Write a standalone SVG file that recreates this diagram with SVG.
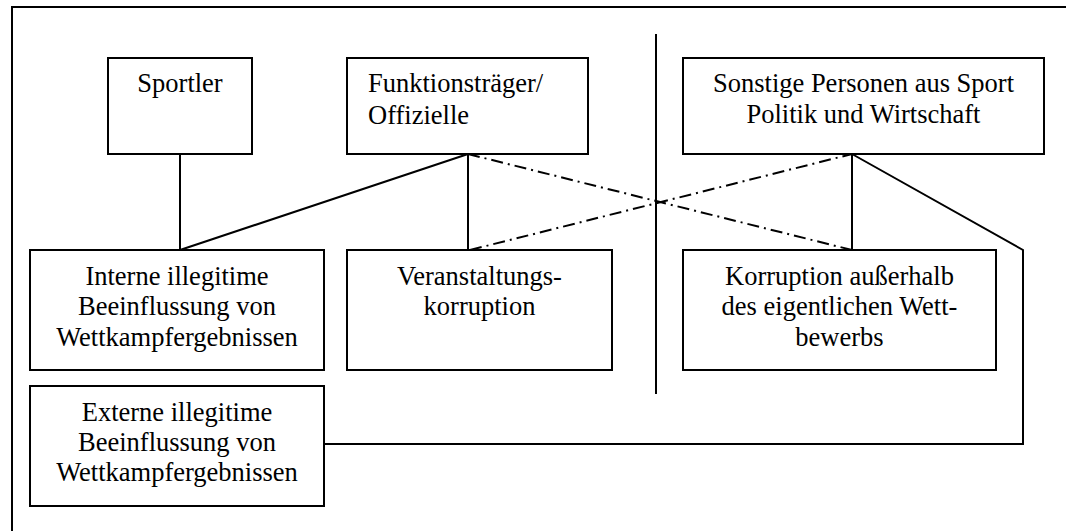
<svg xmlns="http://www.w3.org/2000/svg" width="1066" height="531" viewBox="0 0 1066 531">
  <style>
    .box { fill: #ffffff; stroke: #000000; stroke-width: 2; }
    .line { fill: none; stroke: #000000; stroke-width: 2; }
    .dash { fill: none; stroke: #000000; stroke-width: 2; stroke-dasharray: 12 5 2 5; }
    text { font-family: "Liberation Serif", "Times New Roman", serif; font-size: 26.5px; fill: #000000; }
    .c { text-anchor: middle; }
  </style>
  <rect x="0" y="0" width="1066" height="531" fill="#ffffff"/>
  <!-- outer frame: top and left edges -->
  <path class="line" d="M12,531 V7 H1066"/>
  <!-- vertical divider -->
  <line class="line" x1="656" y1="34" x2="656" y2="394"/>

  <g id="connectors">
    <line class="line" x1="180" y1="154" x2="180" y2="250"/>
    <line class="line" x1="468" y1="154" x2="180" y2="250"/>
    <line class="line" x1="468" y1="154" x2="468" y2="250"/>
    <line class="line" x1="852" y1="154" x2="852" y2="250"/>
    <polyline class="line" points="852,154 1023,250 1023,444 324,444"/>
    <line class="dash" x1="468" y1="154" x2="852" y2="250"/>
    <line class="dash" x1="470" y1="250" x2="852" y2="154"/>
  </g>

  <g id="sportler">
    <rect class="box" x="108" y="58" width="144" height="96"/>
    <text class="c" x="180" y="92">Sportler</text>
  </g>
  <g id="funktionstraeger">
    <rect class="box" x="347" y="58" width="241" height="96"/>
    <text x="368" y="92">Funktionsträger/</text>
    <text x="368" y="124">Offizielle</text>
  </g>
  <g id="sonstige">
    <rect class="box" x="683" y="58" width="361" height="96"/>
    <text class="c" x="863.5" y="92">Sonstige Personen aus Sport</text>
    <text class="c" x="863.5" y="123">Politik und Wirtschaft</text>
  </g>
  <g id="interne">
    <rect class="box" x="30" y="250" width="294" height="120"/>
    <text class="c" x="177" y="285">Interne illegitime</text>
    <text class="c" x="177" y="315">Beeinflussung von</text>
    <text class="c" x="177" y="346">Wettkampfergebnissen</text>
  </g>
  <g id="veranstaltung">
    <rect class="box" x="347" y="250" width="265" height="120"/>
    <text class="c" x="479.5" y="285">Veranstaltungs-</text>
    <text class="c" x="479.5" y="315">korruption</text>
  </g>
  <g id="korruption">
    <rect class="box" x="683" y="250" width="313" height="120"/>
    <text class="c" x="839.5" y="285">Korruption außerhalb</text>
    <text class="c" x="839.5" y="315">des eigentlichen Wett-</text>
    <text class="c" x="839.5" y="346">bewerbs</text>
  </g>
  <g id="externe">
    <rect class="box" x="30" y="386" width="294" height="120"/>
    <text class="c" x="177" y="421">Externe illegitime</text>
    <text class="c" x="177" y="451">Beeinflussung von</text>
    <text class="c" x="177" y="481">Wettkampfergebnissen</text>
  </g>
</svg>
